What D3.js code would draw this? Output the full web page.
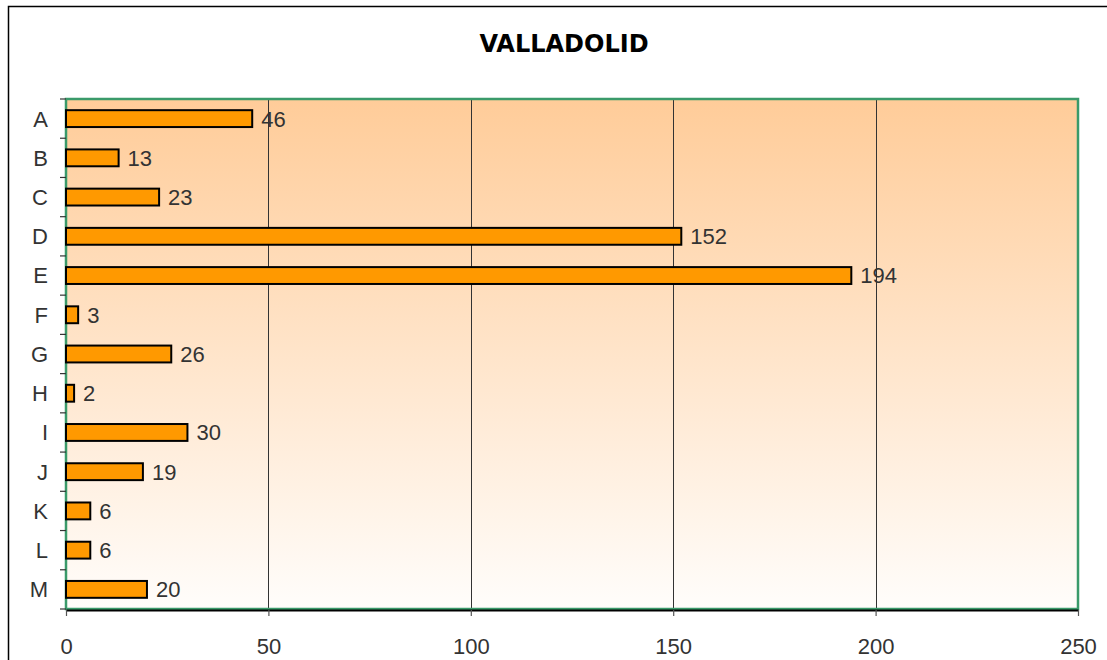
<!DOCTYPE html>
<html>
<head>
<meta charset="utf-8">
<script src="https://cdn.jsdelivr.net/npm/d3@7"></script>
<style>
  html, body { margin: 0; padding: 0; background: #fff; }
  svg { display: block; }
</style>
</head>
<body>
<svg id="chart" width="1107" height="660"></svg>
<script>
const categories = ["A","B","C","D","E","F","G","H","I","J","K","L","M"];
const values = [46, 13, 23, 152, 194, 3, 26, 2, 30, 19, 6, 6, 20];
const xTicks = [0, 50, 100, 150, 200, 250];
const title = "VALLADOLID";

const svg = d3.select("#chart");
const m = { left: 66, right: 1078, top: 99, bottom: 609 };
const font = "'Liberation Sans', Arial, sans-serif";
const fs = 22;

// outer frame (extends beyond visible area on right/bottom)
svg.append("rect")
  .attr("x", 8.5).attr("y", 6.5)
  .attr("width", 1120).attr("height", 680)
  .attr("fill", "#fff").attr("stroke", "#000").attr("stroke-width", 1.5);

// gradient
const defs = svg.append("defs");
const grad = defs.append("linearGradient").attr("id", "bg")
  .attr("x1", 0).attr("y1", 0).attr("x2", 0).attr("y2", 1);
grad.append("stop").attr("offset", "0%").attr("stop-color", "#FFCC99");
grad.append("stop").attr("offset", "100%").attr("stop-color", "#FFFDFB");

const x = d3.scaleLinear().domain([0, 250]).range([m.left, m.right]);
const y = d3.scaleBand().domain(categories).range([m.top, m.bottom]).paddingInner(0.57).paddingOuter(0.285);
const yb = d3.scaleBand().domain(categories).range([m.top, m.bottom]);

// plot area
svg.append("rect")
  .attr("x", m.left).attr("y", m.top)
  .attr("width", m.right - m.left).attr("height", m.bottom - m.top)
  .attr("fill", "url(#bg)");

// gridlines
svg.append("g").selectAll("line")
  .data(xTicks.filter(d => d > 0 && d < 250))
  .join("line")
  .attr("x1", d => Math.round(x(d)) + 0.5).attr("x2", d => Math.round(x(d)) + 0.5)
  .attr("y1", m.top).attr("y2", m.bottom)
  .attr("stroke", "#333").attr("stroke-width", 1);

// plot border (green)
svg.append("rect")
  .attr("x", m.left).attr("y", m.top)
  .attr("width", m.right - m.left).attr("height", m.bottom - m.top)
  .attr("fill", "none").attr("stroke", "#3A9A6A").attr("stroke-width", 2.5);

// bars
svg.append("g").selectAll("rect")
  .data(values)
  .join("rect")
  .attr("x", x(0))
  .attr("y", (d, i) => y(categories[i]))
  .attr("width", d => x(d) - x(0))
  .attr("height", y.bandwidth())
  .attr("fill", "#FF9900")
  .attr("stroke", "#000").attr("stroke-width", 2);

// value labels
svg.append("g").selectAll("text")
  .data(values)
  .join("text")
  .attr("x", d => x(d) + 9)
  .attr("y", (d, i) => yb(categories[i]) + yb.bandwidth() / 2)
  .attr("dy", "0.36em")
  .attr("font-family", font).attr("font-size", fs)
  .attr("fill", "#333")
  .text(d => d);

// y axis ticks (band boundaries) and labels
const yEdges = categories.map(c => yb(c)).concat([m.bottom]);
svg.append("g").selectAll("line")
  .data(yEdges)
  .join("line")
  .attr("x1", 60).attr("x2", m.left)
  .attr("y1", d => d).attr("y2", d => d)
  .attr("stroke", "#333").attr("stroke-width", 1.2);
svg.append("g").selectAll("text")
  .data(categories)
  .join("text")
  .attr("x", 48)
  .attr("y", c => yb(c) + yb.bandwidth() / 2)
  .attr("dy", "0.36em")
  .attr("text-anchor", "end")
  .attr("font-family", font).attr("font-size", fs)
  .attr("fill", "#333")
  .text(c => c);

// x axis
const xAxis = svg.append("g").attr("transform", `translate(0,${m.bottom + 1})`)
  .call(d3.axisBottom(x).tickValues(xTicks).tickSize(6).tickSizeOuter(0).tickPadding(22));
xAxis.select(".domain").attr("stroke", "#000").attr("stroke-width", 2);
xAxis.selectAll(".tick line").attr("stroke", "#555").attr("stroke-width", 1.2);
xAxis.selectAll(".tick text")
  .attr("font-family", font).attr("font-size", fs).attr("fill", "#333");

// title
svg.append("text")
  .attr("x", 564).attr("y", 52)
  .attr("text-anchor", "middle")
  .attr("font-family", "'DejaVu Sans', Verdana, sans-serif")
  .attr("font-weight", "bold").attr("font-size", 24)
  .attr("fill", "#000")
  .text(title);
</script>
</body>
</html>
